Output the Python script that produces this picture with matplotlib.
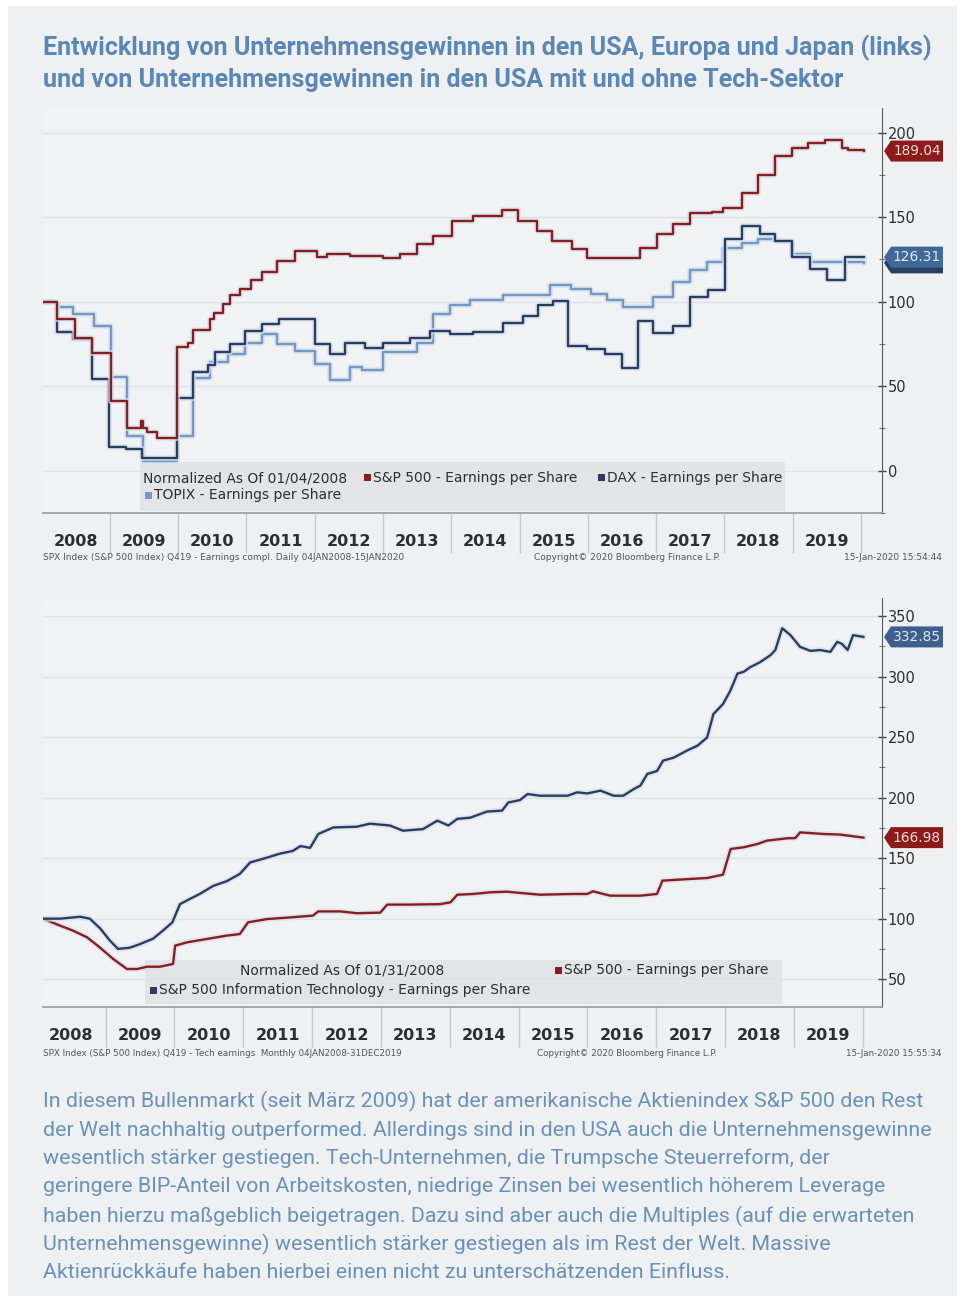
import matplotlib
matplotlib.use("Agg")
import matplotlib.pyplot as plt
import matplotlib.patches as mpatches
import matplotlib.patheffects as pe
import matplotlib.transforms as mtrans
from matplotlib import font_manager

# ---------------------------------------------------------------- data
title_lines = [
    "Entwicklung von Unternehmensgewinnen in den USA, Europa und Japan (links)",
    "und von Unternehmensgewinnen in den USA mit und ohne Tech-Sektor",
]
body_lines = [
    "In diesem Bullenmarkt (seit März 2009) hat der amerikanische Aktienindex S&P 500 den Rest",
    "der Welt nachhaltig outperformed. Allerdings sind in den USA auch die Unternehmensgewinne",
    "wesentlich stärker gestiegen. Tech-Unternehmen, die Trumpsche Steuerreform, der",
    "geringere BIP-Anteil von Arbeitskosten, niedrige Zinsen bei wesentlich höherem Leverage",
    "haben hierzu maßgeblich beigetragen. Dazu sind aber auch die Multiples (auf die erwarteten",
    "Unternehmensgewinne) wesentlich stärker gestiegen als im Rest der Welt. Massive",
    "Aktienrückkäufe haben hierbei einen nicht zu unterschätzenden Einfluss.",
]
years = list(range(2008, 2020))

# top chart (step series, decimal years)
top_spx_t = [2008.01, 2008.23, 2008.49, 2008.74, 2009.01, 2009.25, 2009.45, 2009.49, 2009.55,
             2009.69, 2009.99, 2010.15, 2010.22, 2010.47, 2010.53, 2010.65, 2010.76, 2010.91,
             2011.06, 2011.23, 2011.45, 2011.71, 2012.04, 2012.18, 2012.52, 2013.00, 2013.25,
             2013.50, 2013.73, 2014.01, 2014.32, 2014.75, 2014.98, 2015.26, 2015.48, 2015.77,
             2015.99, 2016.77, 2017.01, 2017.25, 2017.50, 2017.82, 2017.98, 2018.26, 2018.49,
             2018.74, 2018.99, 2019.23, 2019.47, 2019.72, 2019.81, 2020.04]
top_spx_v = [100, 90, 78.5, 69.5, 41.5, 25.4, 29.3, 25, 23,
             19.5, 73, 75.8, 83, 89.5, 93, 98.5, 104, 107.6,
             112.6, 117.4, 124, 130, 126.5, 128, 127, 126, 128,
             134, 139, 147.7, 150.6, 154, 147.7, 141.8, 136, 131,
             126, 132, 139.7, 146, 152.3, 153, 155.5, 164, 174.6,
             186.2, 191, 194, 195.5, 191, 189.5, 189.04]

top_dax_t = [2008.01, 2008.23, 2008.46, 2008.74, 2008.98, 2009.23, 2009.47, 2009.99, 2010.22,
             2010.43, 2010.54, 2010.76, 2010.98, 2011.23, 2011.48, 2012.01, 2012.23, 2012.45,
             2012.74, 2013.00, 2013.40, 2013.69, 2013.98, 2014.32, 2014.76, 2015.05, 2015.27,
             2015.49, 2015.71, 2015.99, 2016.25, 2016.50, 2016.74, 2016.96, 2017.25, 2017.50,
             2017.76, 2018.01, 2018.26, 2018.52, 2018.74, 2018.99, 2019.26, 2019.51, 2019.77,
             2020.04]
top_dax_v = [100, 82, 78, 54.5, 13.8, 12.8, 7.5, 43, 58.3,
             62.5, 70, 75, 82.6, 87, 89.5, 75, 69, 75.6,
             72.7, 75.6, 78.5, 82.6, 80.8, 82, 87.4, 91.3, 98.1,
             100.6, 74, 72, 69, 60.5, 88.4, 81.6, 85.5, 103,
             107, 137, 144.6, 139.7, 135.9, 126.2, 119.4, 112.6, 126.31,
             126.31]

top_topix_t = [2008.01, 2008.24, 2008.46, 2008.76, 2009.01, 2009.25, 2009.49, 2009.99, 2010.22,
               2010.47, 2010.73, 2010.98, 2011.23, 2011.45, 2011.71, 2012.01, 2012.23, 2012.52,
               2012.70, 2013.00, 2013.50, 2013.73, 2013.98, 2014.28, 2014.76, 2015.45, 2015.75,
               2016.04, 2016.28, 2016.52, 2016.96, 2017.25, 2017.50, 2017.75, 2017.98, 2018.26,
               2018.49, 2018.74, 2018.99, 2019.26, 2020.04]
top_topix_v = [100, 97, 92.4, 85.5, 55.4, 20.5, 5.5, 20.5, 55,
               64, 69, 75.8, 80.8, 75, 71, 63.4, 53.5, 61.2,
               59.3, 70, 75.8, 92.4, 98, 101, 104, 110, 107.7,
               104.8, 101, 97, 103, 111.6, 118.6, 123.3, 132, 134.9,
               136.8, 135.9, 128, 123.5, 122.9]

# bottom chart (monthly lines, decimal years)
bot_tech_t = [2008.09, 2008.34, 2008.63, 2008.77, 2008.92, 2009.06, 2009.18, 2009.35, 2009.50,
              2009.69, 2009.83, 2009.97, 2010.08, 2010.23, 2010.37, 2010.56, 2010.76, 2010.95,
              2011.10, 2011.29, 2011.53, 2011.72, 2011.83, 2011.97, 2012.09, 2012.31, 2012.65,
              2012.84, 2013.13, 2013.32, 2013.61, 2013.82, 2013.98, 2014.11, 2014.30, 2014.54,
              2014.76, 2014.85, 2015.02, 2015.13, 2015.31, 2015.71, 2015.85, 2016.00, 2016.19,
              2016.38, 2016.52, 2016.67, 2016.77, 2016.87, 2017.01, 2017.10, 2017.25, 2017.45,
              2017.60, 2017.74, 2017.83, 2017.97, 2018.08, 2018.18, 2018.27, 2018.37, 2018.51,
              2018.66, 2018.73, 2018.83, 2018.95, 2019.09, 2019.24, 2019.38, 2019.53, 2019.63,
              2019.70, 2019.78, 2019.86, 2020.01]
bot_tech_v = [100, 100, 101.6, 100, 92, 82, 75, 76, 79,
              83.5, 90, 97, 112, 116.5, 120.5, 127, 131, 137,
              146.5, 149.5, 153.7, 156, 160, 158.5, 170, 175.4, 176,
              178.5, 177, 172.7, 174, 181, 177, 182.5, 183.5, 188.5,
              189.3, 196, 198, 203, 201.6, 201.6, 204.4, 203.5, 205.8,
              201.6, 201.6, 207, 210, 219.6, 222, 230.6, 233, 239,
              243, 249.8, 269, 277.4, 288.8, 302.6, 304, 308, 312,
              317.8, 322, 340, 334.3, 324.6, 321.3, 322, 320.5, 328.8,
              327, 322, 334.3, 332.85]

bot_spx_t = [2008.09, 2008.34, 2008.53, 2008.73, 2008.92, 2009.11, 2009.31, 2009.46, 2009.60,
             2009.79, 2009.98, 2010.01, 2010.18, 2010.47, 2010.76, 2010.95, 2011.07, 2011.35,
             2011.68, 2012.01, 2012.09, 2012.41, 2012.65, 2012.99, 2013.09, 2013.38, 2013.86,
             2014.01, 2014.11, 2014.34, 2014.59, 2014.83, 2015.07, 2015.31, 2015.79, 2016.00,
             2016.08, 2016.33, 2016.77, 2017.01, 2017.09, 2017.49, 2017.74, 2017.97, 2018.08,
             2018.27, 2018.47, 2018.61, 2018.90, 2019.02, 2019.09, 2019.43, 2019.67, 2020.01]
bot_spx_v = [100, 94.2, 90, 84.6, 76, 66.7, 58.4, 58.4, 60.3,
             60.3, 62.6, 77.7, 80.4, 83.2, 86, 87.3, 97, 99.7,
             101, 102.5, 106, 106, 104.5, 105, 111.6, 111.6, 112,
             113.5, 119.8, 120.4, 121.8, 122.3, 121, 119.8, 120.4, 120.4,
             122.6, 119, 119, 120.4, 131.4, 132.8, 133.6, 136.4, 157.6,
             159, 161.7, 164.5, 166.4, 166.6, 171.3, 170, 169.5, 166.98]

top_yticks = [0, 50, 100, 150, 200]
top_yminor = [-25, 25, 75, 125, 175]
bot_yticks = [50, 100, 150, 200, 250, 300, 350]
bot_yminor = [75, 125, 175, 225, 275, 325]

top_legend_title = "Normalized As Of 01/04/2008"
bot_legend_title = "Normalized As Of 01/31/2008"
top_labels = ["S&P 500 - Earnings per Share", "DAX - Earnings per Share", "TOPIX - Earnings per Share"]
bot_labels = ["S&P 500 - Earnings per Share", "S&P 500 Information Technology - Earnings per Share"]
top_footer = ["SPX Index (S&P 500 Index) Q419 - Earnings compl. Daily 04JAN2008-15JAN2020",
              "Copyright© 2020 Bloomberg Finance L.P.", "15-Jan-2020 15:54:44"]
bot_footer = ["SPX Index (S&P 500 Index) Q419 - Tech earnings  Monthly 04JAN2008-31DEC2019",
              "Copyright© 2020 Bloomberg Finance L.P.", "15-Jan-2020 15:55:34"]

# ---------------------------------------------------------------- style
W, H = 965, 1301
RED = "#8c1c1c"
NAVY = "#2d3c5c"
LIGHT = "#7698c0"
TITLE_C = "#5a88b6"
BODY_C = "#6892bd"
PANEL = "#eff0f2"
TXT = "#2e2e2e"

names = {f.name for f in font_manager.fontManager.ttflist}


def pick(*cands):
    for c in cands:
        if c in names:
            return c
    return "DejaVu Sans"


TITLE_F = pick("Roboto", "Open Sans", "Lato")
BODY_F = pick("Roboto", "Lato", "Open Sans")
CH_F = pick("DejaVu Sans")

fig = plt.figure(figsize=(W / 100, H / 100), dpi=100, facecolor="white")
renderer = fig.canvas.get_renderer()
PIX = mtrans.IdentityTransform()


def fx(x):
    return x / W


def fy(y):
    return 1 - y / H


def fit(t, target):
    w = t.get_window_extent(renderer).width
    t.set_fontsize(t.get_fontsize() * target / w)
    return t


# panel
fig.patches.append(mpatches.Rectangle((fx(8), fy(1296)), fx(957) - fx(8), fy(6) - fy(1296),
                                      transform=fig.transFigure, facecolor=PANEL,
                                      edgecolor="none", zorder=-10))

# title
t1 = fig.text(fx(43), fy(48), title_lines[0], color=TITLE_C, fontsize=16, fontweight="bold",
              family=TITLE_F, va="center", ha="left")
fit(t1, 890)
fig.text(fx(43), fy(80), title_lines[1], color=TITLE_C, fontsize=t1.get_fontsize(),
         fontweight="bold", family=TITLE_F, va="center", ha="left")

# body
body_y = [1101, 1130, 1158, 1187, 1216, 1244, 1273]
bt = fig.text(fx(43), fy(body_y[1]), body_lines[1], color=BODY_C, fontsize=14,
              fontweight="normal", family=BODY_F, va="center", ha="left")
fit(bt, 894)
for i, line in enumerate(body_lines):
    if i == 1:
        continue
    fig.text(fx(43), fy(body_y[i]), line, color=BODY_C, fontsize=bt.get_fontsize(),
             fontweight="normal", family=BODY_F, va="center", ha="left")

glow = [pe.Stroke(linewidth=4.2, foreground="#d3e2f1", alpha=0.75), pe.Normal()]


def style_axes(ax, xlim, ylim, yt, ym):
    ax.set_xlim(*xlim)
    ax.set_ylim(*ylim)
    ax.set_facecolor("#f1f2f4")
    for s in ("left", "top"):
        ax.spines[s].set_visible(False)
    ax.spines["right"].set_color("#5a5a5a")
    ax.spines["bottom"].set_color("#9a9a9a")
    ax.spines["bottom"].set_linewidth(1.2)
    ax.yaxis.tick_right()
    ax.set_yticks(yt)
    ax.set_yticks(ym, minor=True)
    ax.set_yticklabels([str(v) for v in yt])
    ax.tick_params(axis="y", which="major", direction="inout", length=6, width=1,
                   color="#444", labelcolor=TXT, labelsize=10.5, pad=1)
    ax.tick_params(axis="y", which="minor", direction="inout", length=4, width=0.8,
                   color="#777")
    for lab in ax.get_yticklabels():
        lab.set_family(CH_F)
    ax.grid(axis="y", which="major", color="#dfe2e6", lw=1)
    ax.set_axisbelow(True)
    ax.set_xticks([y + 1 for y in years])
    ax.set_xticklabels([])
    ax.set_xticks([y + 0.5 for y in years], minor=True)
    ax.set_xticklabels([str(y) for y in years], minor=True)
    ax.tick_params(axis="x", which="major", direction="out", length=29, width=1,
                   color="#c8c8c8")
    ax.tick_params(axis="x", which="minor", length=0, pad=15, labelsize=11.5,
                   labelcolor=TXT)
    for lab in ax.get_xticklabels(minor=True):
        lab.set_fontweight("bold")
        lab.set_family(CH_F)


def tag(ax, value, text, bg, fg):
    """Arrow-shaped value tag to the right of the axis, pointing at the last value."""
    xr = ax.transAxes.transform((1, 0))[0]
    yd = ax.transData.transform((ax.get_xlim()[0], value))[1]
    hh = 10.5
    pts = [(xr + 2, yd), (xr + 9, yd + hh), (xr + 61, yd + hh), (xr + 61, yd - hh),
           (xr + 9, yd - hh)]
    fig.patches.append(mpatches.Polygon(pts, closed=True, transform=PIX, facecolor=bg,
                                        edgecolor="none", zorder=30))
    if text:
        t = fig.text(xr + 35, yd, text, transform=PIX, ha="center", va="center", fontsize=10.5,
                     family=CH_F, color=fg, zorder=31)
        fit(t, 48)


# ---------------------------------------------------------------- top chart
ax1 = fig.add_axes([fx(43), fy(513), fx(882) - fx(43), fy(108) - fy(513)])
style_axes(ax1, (2008.02, 2020.31), (-21, 214.5), top_yticks, top_yminor)
ax1.step(top_topix_t, top_topix_v, where="post", color=LIGHT, lw=1.7, path_effects=glow, zorder=3)
ax1.step(top_dax_t, top_dax_v, where="post", color=NAVY, lw=1.7, path_effects=glow, zorder=4)
ax1.step(top_spx_t, top_spx_v, where="post", color=RED, lw=1.7, path_effects=glow, zorder=5)
tag(ax1, top_topix_v[-1], "", "#2b3f60", "#c9d4e3")
tag(ax1, top_dax_v[-1], f"{top_dax_v[-1]:.2f}", "#3f6a98", "#dfe8f3")
tag(ax1, top_spx_v[-1], f"{top_spx_v[-1]:.2f}", RED, "#f4d8d8")

# ---------------------------------------------------------------- bottom chart
ax2 = fig.add_axes([fx(43), fy(1007), fx(882) - fx(43), fy(598) - fy(1007)])
style_axes(ax2, (2008.09, 2020.28), (27, 365), bot_yticks, bot_yminor)
ax2.plot(bot_spx_t, bot_spx_v, color=RED, lw=1.7, path_effects=glow, zorder=4)
ax2.plot(bot_tech_t, bot_tech_v, color=NAVY, lw=1.7, path_effects=glow, zorder=5)
tag(ax2, bot_tech_v[-1], f"{bot_tech_v[-1]:.2f}", "#3d5f8d", "#dfe8f3")
tag(ax2, bot_spx_v[-1], f"{bot_spx_v[-1]:.2f}", RED, "#f4d8d8")

# ---------------------------------------------------------------- legends
LEG_BG = "#e1e3e6"


def box(ax, x0, y0, x1, y1):
    ax.add_patch(mpatches.Rectangle((fx(x0), fy(y1)), fx(x1) - fx(x0), fy(y0) - fy(y1),
                                    transform=fig.transFigure, facecolor=LEG_BG,
                                    edgecolor="none", alpha=0.92, zorder=2))


def square(x, y, c):
    fig.patches.append(mpatches.Rectangle((fx(x), fy(y + 3.5)), fx(7), 7 / H,
                                          transform=fig.transFigure, facecolor=c,
                                          edgecolor="none", zorder=21))


def ltext(x, y, s, size):
    return fig.text(fx(x), fy(y), s, fontsize=size, color=TXT, family=CH_F,
                    va="center", ha="left", zorder=22)


box(ax1, 140, 462, 785, 511)
lt = ltext(143, 478, top_legend_title, 10)
fit(lt, 205)
ls = lt.get_fontsize()
square(364, 478, RED)
ltext(373, 478, top_labels[0], ls)
square(598, 478, NAVY)
ltext(607, 478, top_labels[1], ls)
square(145, 495, LIGHT)
ltext(154, 495, top_labels[2], ls)

box(ax2, 145, 960, 782, 1004)
ltext(240, 970, bot_legend_title, ls)
square(555, 970, RED)
ltext(564, 970, bot_labels[0], ls)
square(150, 990, NAVY)
ltext(159, 990, bot_labels[1], ls)

# ---------------------------------------------------------------- footers
for fyy, foot in ((558, top_footer), (1053, bot_footer)):
    f0 = fig.text(fx(43), fy(fyy), foot[0], fontsize=6, color="#555", family=CH_F,
                  va="center", ha="left")
    fit(f0, 362)
    fs = f0.get_fontsize()
    fig.text(fx(627), fy(fyy), foot[1], fontsize=fs, color="#555", family=CH_F,
             va="center", ha="center")
    fig.text(fx(942), fy(fyy), foot[2], fontsize=fs, color="#555", family=CH_F,
             va="center", ha="right")

fig.savefig("out.png", dpi=100, facecolor="white")
